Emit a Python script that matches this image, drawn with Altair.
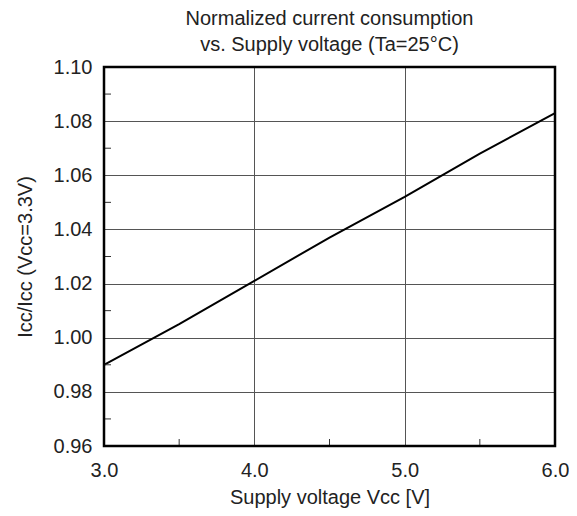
import altair as alt
import pandas as pd

# Data
vcc = [3.0, 3.5, 4.0, 4.5, 5.0, 5.5, 6.0]
icc_norm = [0.990, 1.005, 1.021, 1.037, 1.052, 1.068, 1.083]
x_ticks = [3.0, 4.0, 5.0, 6.0]
y_ticks = [0.96, 0.98, 1.00, 1.02, 1.04, 1.06, 1.08, 1.10]
x_minor = [3.5, 4.5, 5.5]
y_minor = [0.97, 0.99, 1.01, 1.03, 1.05, 1.07, 1.09]

W, H = 451, 379
FONT = "Liberation Sans"
TXT = "#222222"
FS = 20

df = pd.DataFrame({"vcc": vcc, "icc": icc_norm})
xs = alt.Scale(domain=[3.0, 6.0], nice=False, zero=False)
ys = alt.Scale(domain=[0.96, 1.10], nice=False, zero=False)

xaxis = alt.Axis(values=x_ticks, format=".1f", title="Supply voltage Vcc [V]",
                 grid=True, gridColor="#555555", gridWidth=1, domain=False,
                 tickSize=0, labelPadding=14, labelFontSize=FS, labelColor=TXT,
                 labelFont=FONT, titleFont=FONT, titleFontSize=FS,
                 labelFlush=False, labelOverlap=False,
                 titleFontWeight="normal", titleColor=TXT, titlePadding=7)
yaxis = alt.Axis(values=y_ticks, format=".2f", title="Icc/Icc (Vcc=3.3V)",
                 grid=True, gridColor="#555555", gridWidth=1, domain=False,
                 tickSize=0, labelPadding=12, labelFontSize=FS, labelColor=TXT,
                 labelFont=FONT, titleFont=FONT, titleFontSize=FS,
                 labelFlush=False, labelOverlap=False,
                 titleFontWeight="normal", titleColor=TXT, titlePadding=18)

line = alt.Chart(df).mark_line(color="black", strokeWidth=2).encode(
    x=alt.X("vcc:Q", scale=xs, axis=xaxis),
    y=alt.Y("icc:Q", scale=ys, axis=yaxis),
)

ymin_df = pd.DataFrame({"icc": y_minor})
ymin = alt.Chart(ymin_df).mark_rule(color="#333333", strokeWidth=1).encode(
    y=alt.Y("icc:Q", scale=ys, axis=yaxis),
    x=alt.value(0), x2=alt.value(7),
)
xmin_df = pd.DataFrame({"vcc": x_minor})
xmin = alt.Chart(xmin_df).mark_rule(color="#333333", strokeWidth=1).encode(
    x=alt.X("vcc:Q", scale=xs, axis=xaxis),
    y=alt.value(H - 7), y2=alt.value(H),
)

border = alt.Chart(pd.DataFrame({"a": [0]})).mark_rect(
    fill=None, stroke="black", strokeWidth=2.5
).encode(x=alt.value(0), x2=alt.value(W), y=alt.value(0), y2=alt.value(H))

chart = alt.layer(line, ymin, xmin, border).properties(
    width=W, height=H,
    title=alt.TitleParams(
        ["Normalized current consumption", "vs. Supply voltage (Ta=25°C)"],
        font=FONT, fontSize=FS, fontWeight="normal", color=TXT,
        lineHeight=26, offset=2, frame="group", anchor="middle",
    ),
    autosize=alt.AutoSizeParams(type="none"),
    padding={"left": 96, "top": 59, "right": 14, "bottom": 62},
).configure_view(stroke=None).configure(background="white")

chart.save("out.html", embed_options={"renderer": "svg", "actions": False})
